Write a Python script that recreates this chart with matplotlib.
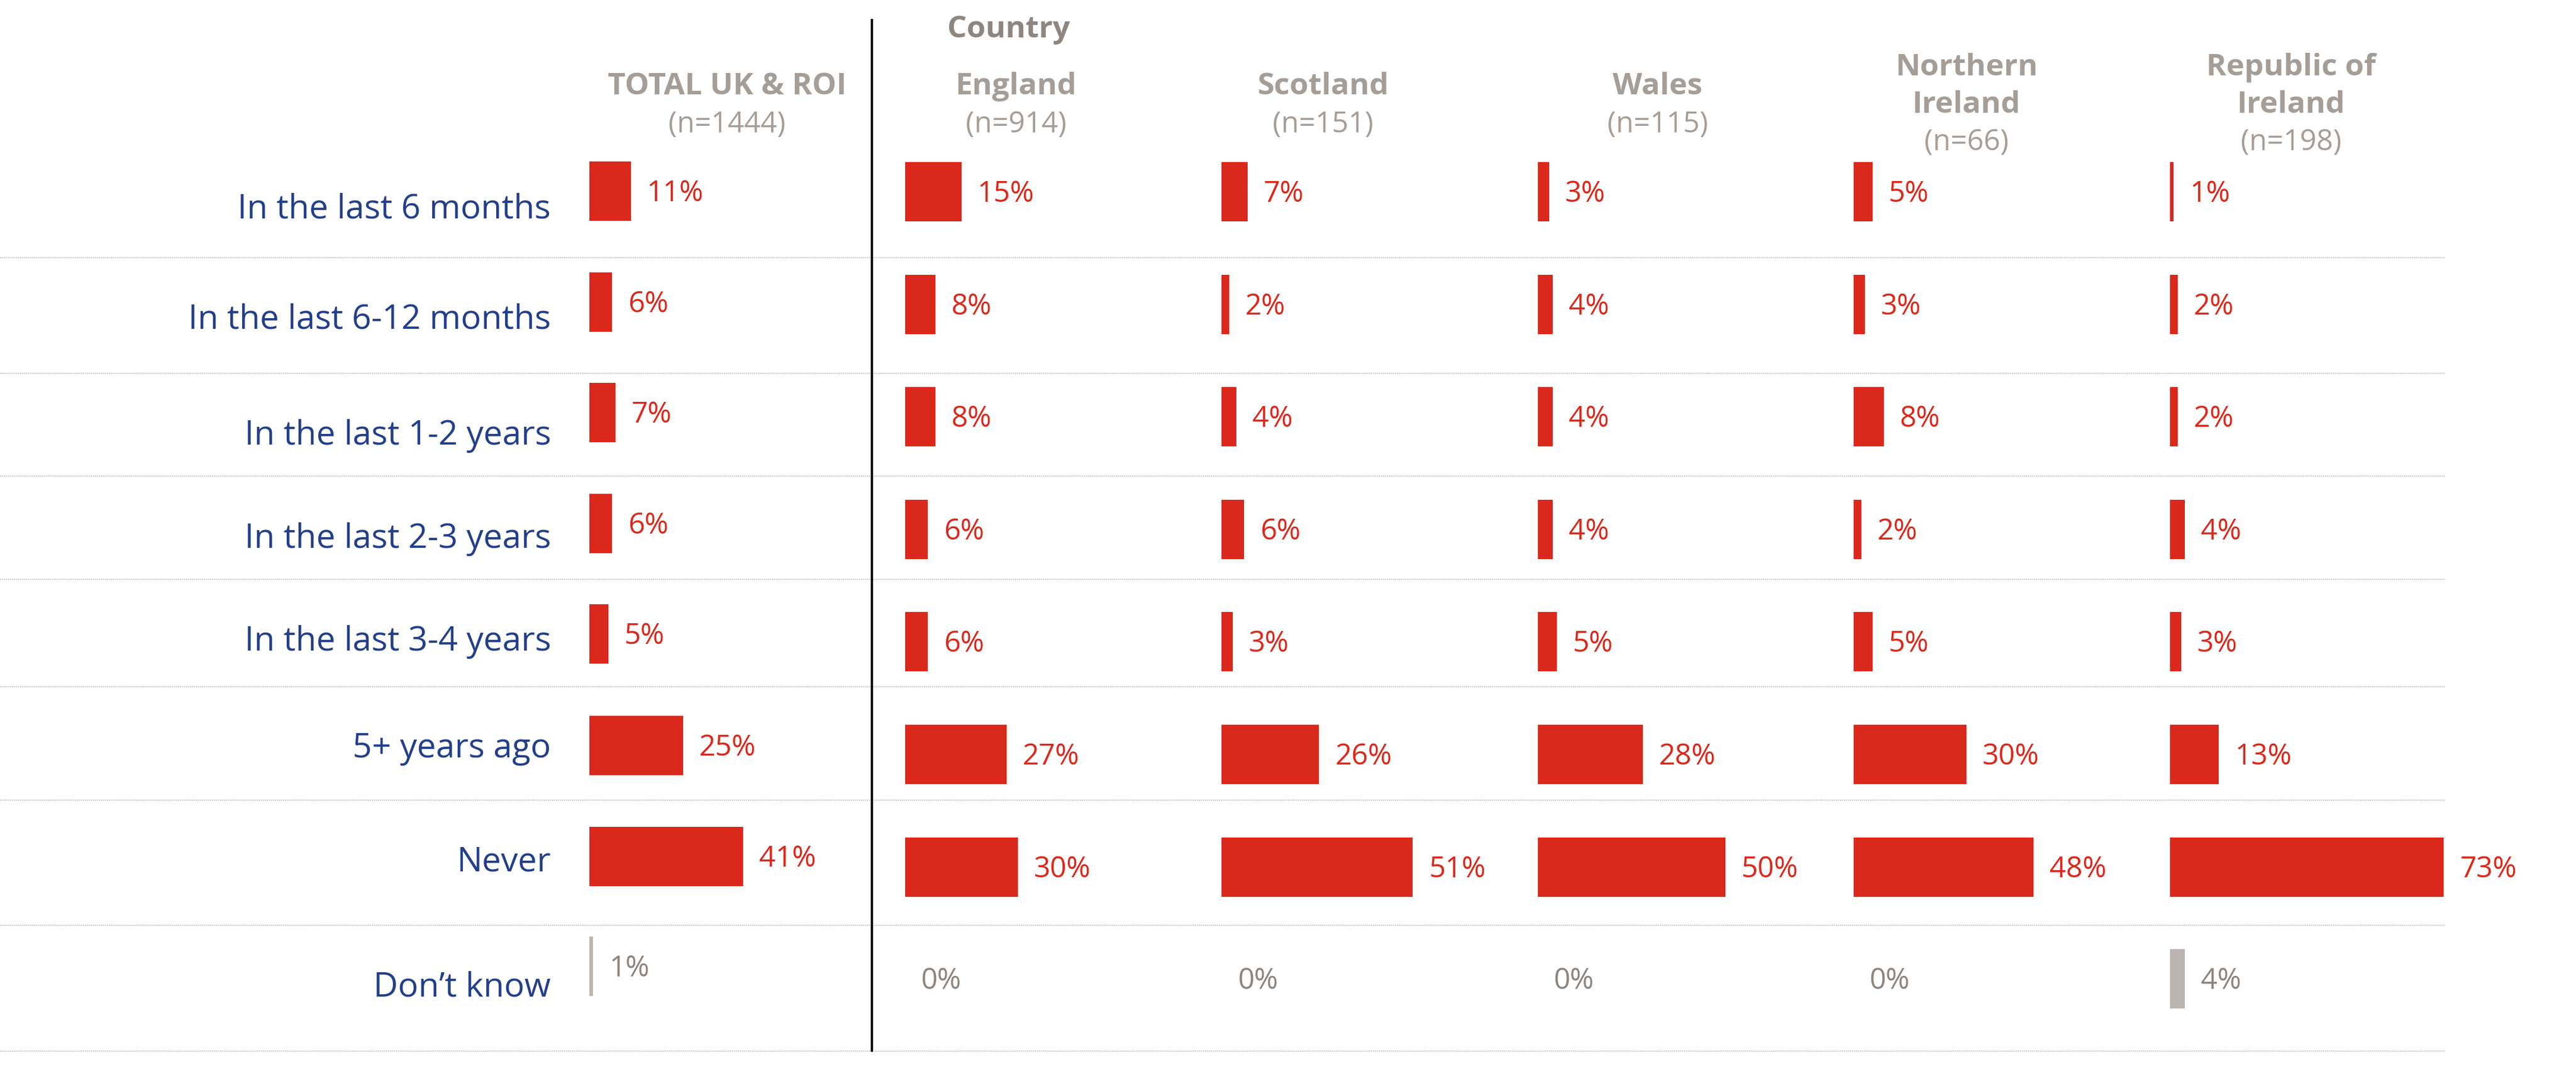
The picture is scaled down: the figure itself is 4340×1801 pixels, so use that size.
import matplotlib
matplotlib.use("Agg")
import matplotlib.pyplot as plt

# --- data -----------------------------------------------------------------
categories = [
    "In the last 6 months",
    "In the last 6-12 months",
    "In the last 1-2 years",
    "In the last 2-3 years",
    "In the last 3-4 years",
    "5+ years ago",
    "Never",
    "Don\u2019t know",
]
column_names = [
    ["TOTAL UK & ROI"],
    ["England"],
    ["Scotland"],
    ["Wales"],
    ["Northern", "Ireland"],
    ["Republic of", "Ireland"],
]
base_sizes = [1444, 914, 151, 115, 66, 198]

total_uk_roi = [11, 6, 7, 6, 5, 25, 41, 1]
england = [15, 8, 8, 6, 6, 27, 30, 0]
scotland = [7, 2, 4, 6, 3, 26, 51, 0]
wales = [3, 4, 4, 4, 5, 28, 50, 0]
northern_ireland = [5, 3, 8, 2, 5, 30, 48, 0]
republic_of_ireland = [1, 2, 2, 4, 3, 13, 73, 4]
series = [total_uk_roi, england, scotland, wales, northern_ireland, republic_of_ireland]

# --- layout (pixels of a 4340 x 1801 canvas) --------------------------------
W, H = 4340, 1801
COL_X = [993, 1525, 2058, 2591, 3123, 3656]
HEAD_X = [1225, 1712, 2229, 2793, 3313, 3860]
COL_W = 533
PX_PER_PCT = 6.32
BAR_H = 100
ROW_Y_TOTAL = [322, 509, 695, 882, 1068, 1256, 1443, 1628]
ROW_Y_COUNTRY = [323, 513, 702, 892, 1081, 1271, 1461, 1649]
LABEL_BASE = [368, 553, 749, 923, 1096, 1276, 1467, 1678]
SEP_Y = [434, 629, 802, 976, 1157, 1348, 1559, 1771]
LABEL_RIGHT = 928
DIVIDER_X = 1469

RED = "#DA291C"
NAVY = "#233F8A"
HEAD_GREY = "#A59D97"
COUNTRY_GREY = "#8E8681"
DK_BAR = "#BCB4B0"
DK_TEXT = "#8C847F"
SEP_COL = "#CDCDCD"

FONT = ["Open Sans", "DejaVu Sans"]
plt.rcParams["font.family"] = FONT

fig = plt.figure(figsize=(W / 100, H / 100), dpi=100)
fig.patch.set_facecolor("white")

bg = fig.add_axes([0, 0, 1, 1])
bg.set_xlim(0, W)
bg.set_ylim(H, 0)
bg.axis("off")

# row separators and divider
bg.hlines(SEP_Y, 0, 4119, colors=SEP_COL, linewidth=1.5, linestyles=(0, (1, 0.6)))
bg.vlines(DIVIDER_X, 32, 1772, colors="black", linewidth=2.8)

# row labels
for lab, yb in zip(categories, LABEL_BASE):
    bg.text(LABEL_RIGHT, yb, lab, ha="right", va="baseline", fontsize=41, color=NAVY)

# headers
bg.text(1596, 63, "Country", ha="left", va="baseline", fontsize=37,
        fontweight="bold", color=COUNTRY_GREY)
for hx, name_lines, n in zip(HEAD_X, column_names, base_sizes):
    if len(name_lines) == 1:
        bases = [159]
        n_base = 223
    else:
        bases = [127, 190]
        n_base = 253
    for line, yb in zip(name_lines, bases):
        bg.text(hx, yb, line, ha="center", va="baseline", fontsize=37,
                fontweight="bold", color=HEAD_GREY)
    bg.text(hx, n_base, f"(n={n})", ha="center", va="baseline", fontsize=35,
            color=HEAD_GREY)

# bars, one axes per column with a percent x scale
xmax = COL_W / PX_PER_PCT
gap = 27 / PX_PER_PCT
for i, (cx, vals) in enumerate(zip(COL_X, series)):
    ax = fig.add_axes([cx / W, 0, COL_W / W, 1])
    ax.set_xlim(0, xmax)
    ax.set_ylim(H, 0)
    ax.axis("off")
    ax.patch.set_alpha(0)
    ys = ROW_Y_TOTAL if i == 0 else ROW_Y_COUNTRY
    colors = [RED] * (len(vals) - 1) + [DK_BAR]
    ax.barh(ys, vals, height=BAR_H, left=0, color=colors, edgecolor="none")
    for j, (v, y) in enumerate(zip(vals, ys)):
        tc = DK_TEXT if j == len(vals) - 1 else RED
        ax.text(v + gap, y + 17, f"{v}%", ha="left", va="baseline",
                fontsize=35, color=tc, clip_on=False)

fig.savefig("out.png", dpi=100, facecolor="white")
